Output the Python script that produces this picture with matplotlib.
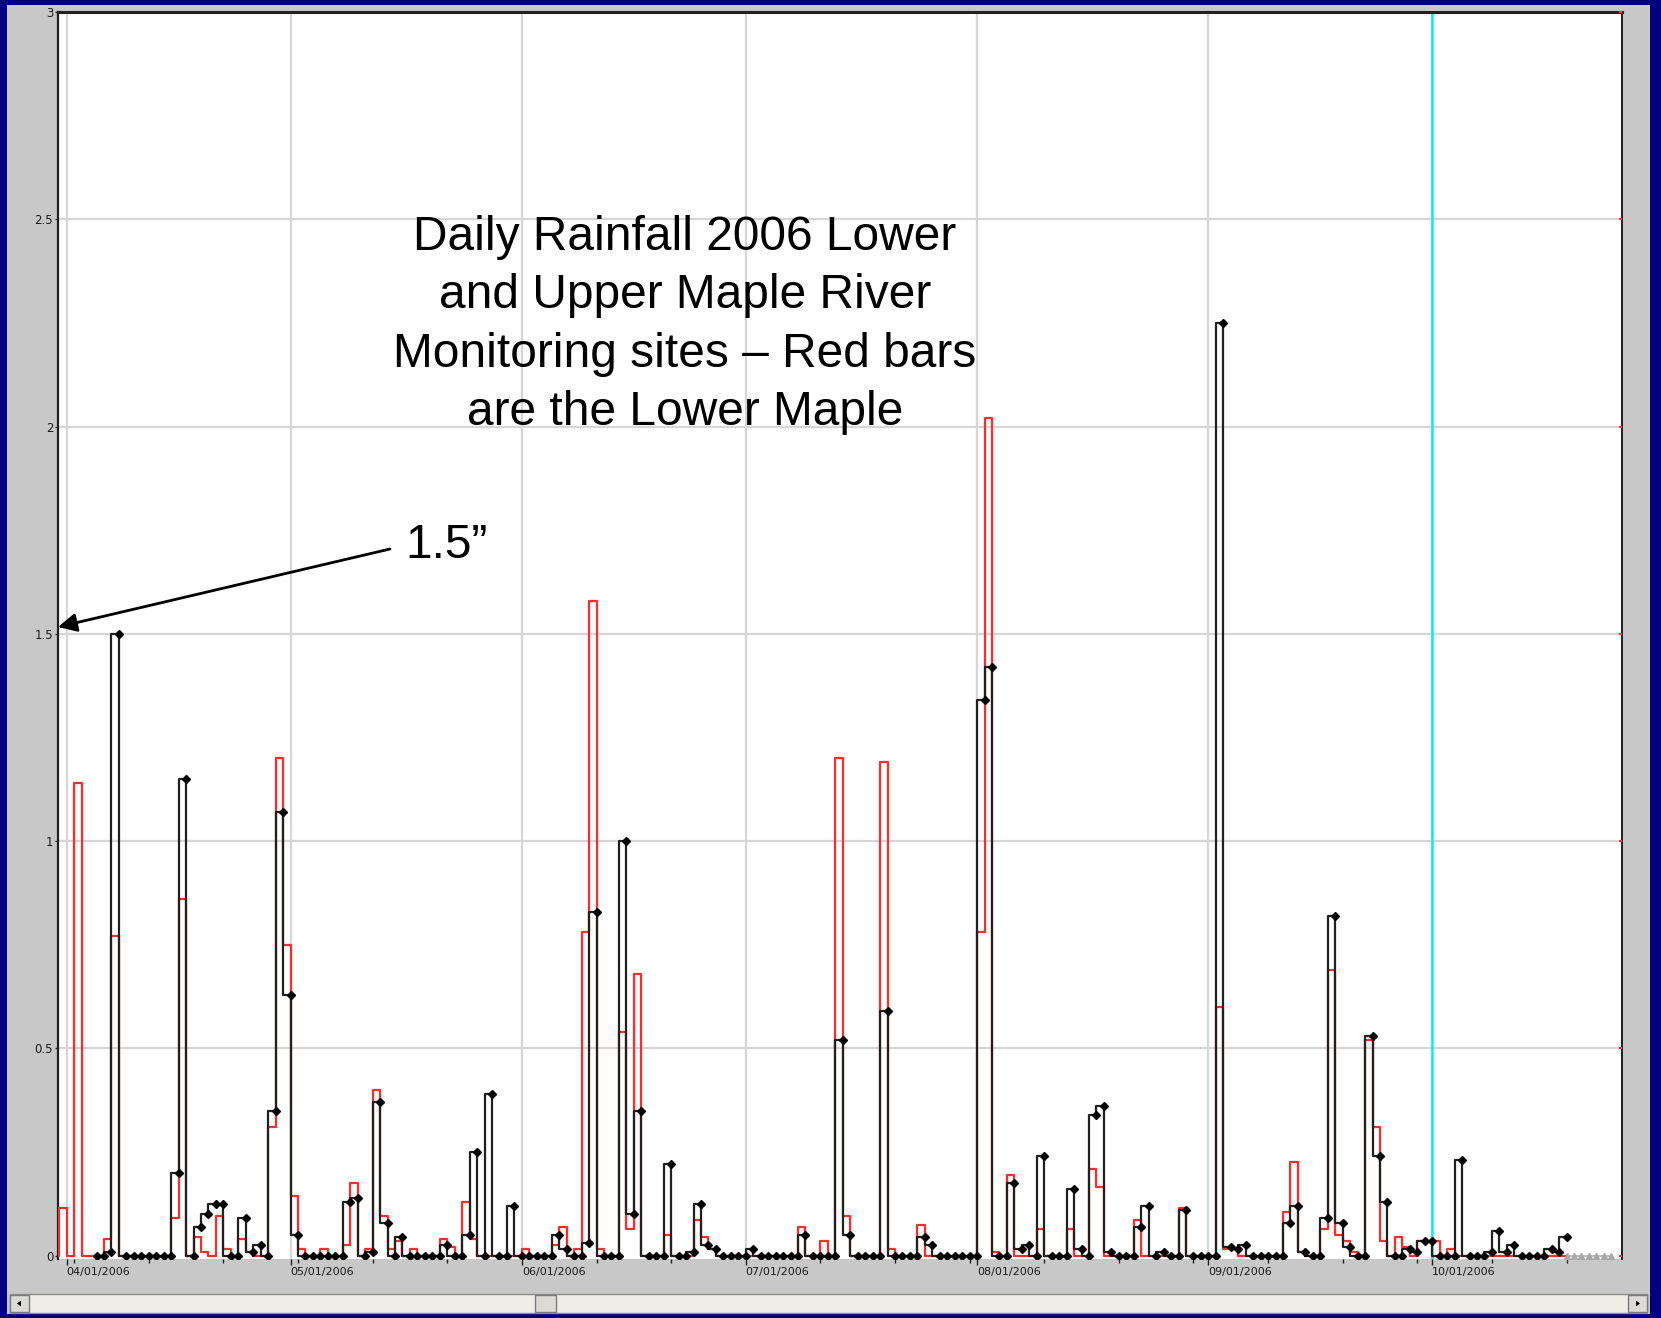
import numpy as np
import pandas as pd
import matplotlib
matplotlib.use("Agg")
import matplotlib.pyplot as plt
import matplotlib.dates as mdates
from matplotlib.patches import Rectangle, Polygon

W, H = 1661, 1318

# daily rainfall in inches, only the wet days are listed (all other days are 0)
upper_days = ["04-07", "04-08", "04-16", "04-17", "04-19", "04-20", "04-21", "04-22",
              "04-25", "04-26", "04-27", "04-29", "04-30", "05-01", "05-02", "05-09",
              "05-10", "05-12", "05-13", "05-14", "05-16", "05-22", "05-25", "05-26",
              "05-28", "05-31", "06-06", "06-07", "06-10", "06-11", "06-15", "06-16",
              "06-17", "06-21", "06-24", "06-25", "06-26", "06-27", "07-02", "07-09",
              "07-14", "07-15", "07-20", "07-25", "07-26", "08-02", "08-03", "08-06",
              "08-07", "08-08", "08-10", "08-14", "08-15", "08-17", "08-18", "08-19",
              "08-23", "08-24", "08-26", "08-29", "09-03", "09-04", "09-05", "09-06",
              "09-12", "09-13", "09-14", "09-17", "09-18", "09-19", "09-20", "09-23",
              "09-24", "09-25", "09-28", "09-29", "09-30", "10-01", "10-05", "10-09",
              "10-10", "10-11", "10-12", "10-17", "10-18", "10-19"]
upper_vals = [0.01, 1.50, 0.20, 1.15, 0.07, 0.10, 0.125, 0.125,
              0.09, 0.01, 0.025, 0.35, 1.07, 0.63, 0.05, 0.13,
              0.14, 0.01, 0.37, 0.08, 0.045, 0.025, 0.05, 0.25,
              0.39, 0.12, 0.05, 0.015, 0.03, 0.83, 1.00, 0.10,
              0.35, 0.22, 0.01, 0.125, 0.025, 0.015, 0.015, 0.05,
              0.52, 0.05, 0.59, 0.045, 0.025, 1.34, 1.42, 0.175,
              0.015, 0.025, 0.24, 0.16, 0.015, 0.34, 0.36, 0.01,
              0.07, 0.12, 0.01, 0.11, 2.25, 0.02, 0.015, 0.025,
              0.08, 0.12, 0.01, 0.09, 0.82, 0.08, 0.02, 0.53,
              0.24, 0.13, 0.015, 0.01, 0.035, 0.035, 0.23, 0.01,
              0.06, 0.01, 0.025, 0.015, 0.01, 0.045]

lower_days = ["04-01", "04-03", "04-07", "04-08", "04-16", "04-17", "04-19", "04-20",
              "04-22", "04-23", "04-25", "04-26", "04-29", "04-30", "05-01", "05-02",
              "05-03", "05-06", "05-09", "05-10", "05-12", "05-13", "05-14", "05-15",
              "05-16", "05-18", "05-22", "05-23", "05-25", "05-26", "06-02", "06-06",
              "06-07", "06-09", "06-10", "06-11", "06-12", "06-15", "06-16", "06-17",
              "06-21", "06-25", "06-26", "06-27", "07-09", "07-12", "07-14", "07-15",
              "07-20", "07-21", "07-25", "08-02", "08-03", "08-04", "08-06", "08-10",
              "08-14", "08-17", "08-18", "08-23", "08-29", "09-03", "09-04", "09-05",
              "09-12", "09-13", "09-14", "09-17", "09-18", "09-19", "09-20", "09-21",
              "09-23", "09-24", "09-25", "09-27", "09-28", "09-30", "10-01", "10-02",
              "10-04"]
lower_vals = [0.115, 1.14, 0.04, 0.77, 0.09, 0.86, 0.045, 0.01,
              0.095, 0.015, 0.04, 0.01, 0.31, 1.20, 0.75, 0.145,
              0.015, 0.015, 0.025, 0.175, 0.015, 0.40, 0.095, 0.015,
              0.035, 0.015, 0.04, 0.02, 0.13, 0.04, 0.015, 0.025,
              0.07, 0.015, 0.78, 1.58, 0.015, 0.54, 0.065, 0.68,
              0.05, 0.085, 0.045, 0.015, 0.07, 0.035, 1.20, 0.095,
              1.19, 0.015, 0.075, 0.78, 2.02, 0.01, 0.195, 0.065,
              0.065, 0.21, 0.165, 0.085, 0.115, 0.60, 0.015, 0.015,
              0.105, 0.225, 0.01, 0.065, 0.69, 0.05, 0.035, 0.01,
              0.52, 0.31, 0.035, 0.045, 0.02, 0.035, 0.035, 0.035,
              0.015]

upper_start, upper_end = "2006-04-05", "2006-10-19"
lower_start, lower_end = "2006-03-29", "2006-10-19"
nodata_start, nodata_end = "2006-10-19", "2006-10-25"

y_ticks = [0, 0.5, 1, 1.5, 2, 2.5, 3]
y_labels = ["0", "0.5", "1", "1.5", "2", "2.5", "3"]
month_ticks = pd.date_range("2006-04-01", "2006-10-01", freq="MS")
ten_day_ticks = pd.date_range("2006-04-02", "2006-10-20", freq="10D")
cursor_day = pd.Timestamp("2006-10-01")

note = "Daily Rainfall 2006 Lower\nand Upper Maple River\nMonitoring sites \u2013 Red bars\nare the Lower Maple"


def daily(start, end, days, vals):
    s = pd.Series(0.0, index=pd.date_range(start, end))
    s[pd.to_datetime(["2006-" + d for d in days])] = vals
    return s


upper = daily(upper_start, upper_end, upper_days, upper_vals)
lower = daily(lower_start, lower_end, lower_days, lower_vals)
nodata = pd.Series(0.0, index=pd.date_range(nodata_start, nodata_end))


def fx(px):
    return px / W


def fy(py):
    return 1 - py / H


fig = plt.figure(figsize=(W / 100, H / 100), dpi=100)
fig.patch.set_facecolor("#000080")

# grey window panel + scroll bar
panel = Rectangle((fx(7), fy(1314)), fx(1650) - fx(7), fy(5) - fy(1314),
                  transform=fig.transFigure, fc="#c8c8c8", ec="none", zorder=0)
fig.add_artist(panel)
fig.add_artist(Rectangle((fx(10), fy(1313)), fx(1647) - fx(10), fy(1294) - fy(1313),
                         transform=fig.transFigure, fc="#eeede6", ec="#8c8c8c", lw=1))
for x0, x1 in [(10, 29), (1628, 1647), (535, 556)]:
    fig.add_artist(Rectangle((fx(x0), fy(1312)), fx(x1) - fx(x0), fy(1295) - fy(1312),
                             transform=fig.transFigure, fc="#dcdad4", ec="#7a7a7a", lw=1))
fig.add_artist(Polygon([(fx(17), fy(1303.5)), (fx(21), fy(1300.5)), (fx(21), fy(1306.5))],
                       transform=fig.transFigure, fc="black", ec="none"))
fig.add_artist(Polygon([(fx(1640), fy(1303.5)), (fx(1636), fy(1300.5)), (fx(1636), fy(1306.5))],
                       transform=fig.transFigure, fc="black", ec="none"))

ax = fig.add_axes([fx(58), fy(1259), fx(1622) - fx(58), fy(12) - fy(1259)])
ax.set_facecolor("white")

d0 = pd.Timestamp("2006-04-01")
ax.set_xlim(mdates.date2num(d0 - pd.Timedelta(days=1.166)),
            mdates.date2num(d0 + pd.Timedelta(days=208.43)))
ax.set_ylim(-0.008, 3.0)

# grid
for y in y_ticks[1:]:
    ax.axhline(y, color="#d6d6d6", lw=1.6, zorder=1)
for m in month_ticks:
    ax.axvline(m, color="#d6d6d6", lw=1.6, zorder=1)
ax.axvline(cursor_day, color="#00f0ff", lw=1.8, zorder=2)

ax.plot(lower.index, lower.values, drawstyle="steps-pre", color="#ff2a2a", lw=1.6, zorder=3)
ax.plot(nodata.index, nodata.values, color="#b0b0b0", lw=1.2, marker="^", ms=4,
        mfc="#a8a8a8", mec="#a8a8a8", zorder=3)
ax.plot(upper.index, upper.values, drawstyle="steps-pre", color="#202020", lw=1.6,
        marker="D", ms=3.6, mfc="black", mec="black", zorder=4)

# axes frame
for side in ["left", "top", "right"]:
    ax.spines[side].set_color("#202020")
ax.spines["left"].set_linewidth(1.6)
ax.spines["top"].set_linewidth(2.2)
ax.spines["right"].set_linewidth(1.4)
ax.spines["bottom"].set_visible(False)

ax.set_yticks(y_ticks)
ax.set_yticklabels(y_labels)
ax.tick_params(axis="y", length=2.5, width=1, color="#202020", pad=1, labelsize=8.5,
               labelcolor="#1a1a1a")
ax.set_xticks(month_ticks)
ax.set_xticklabels([m.strftime("%m/%d/%Y") for m in month_ticks], ha="left")
ax.set_xticks(ten_day_ticks, minor=True)
ax.tick_params(axis="x", which="major", length=4, width=1, color="#202020", pad=2,
               labelsize=8, labelcolor="#1a1a1a")
ax.tick_params(axis="x", which="minor", length=3, width=1, color="#202020")
for lab in ax.get_yticklabels():
    lab.set_clip_path(panel)

# small red marks on the right frame
ax2 = ax.twinx()
ax2.set_ylim(ax.get_ylim())
ax2.set_yticks(y_ticks)
ax2.set_yticklabels([])
ax2.tick_params(axis="y", length=2, width=1.5, color="#ff3030", direction="in")
for side in ax2.spines.values():
    side.set_visible(False)

fig.text(fx(685), fy(325), note, ha="center", va="center", fontsize=34.5,
         family="Liberation Sans", linespacing=1.38, color="black")
fig.text(fx(405), fy(545), "1.5\u201d", ha="left", va="center", fontsize=34.5,
         family="Liberation Sans", color="black")
ax.annotate("", xy=(fx(58), fy(627)), xycoords="figure fraction",
            xytext=(fx(390), fy(549)), textcoords="figure fraction",
            arrowprops=dict(arrowstyle="-|>", color="black", lw=2, mutation_scale=28,
                            shrinkA=0, shrinkB=0))

fig.savefig("out.png", dpi=100, facecolor=fig.get_facecolor())
